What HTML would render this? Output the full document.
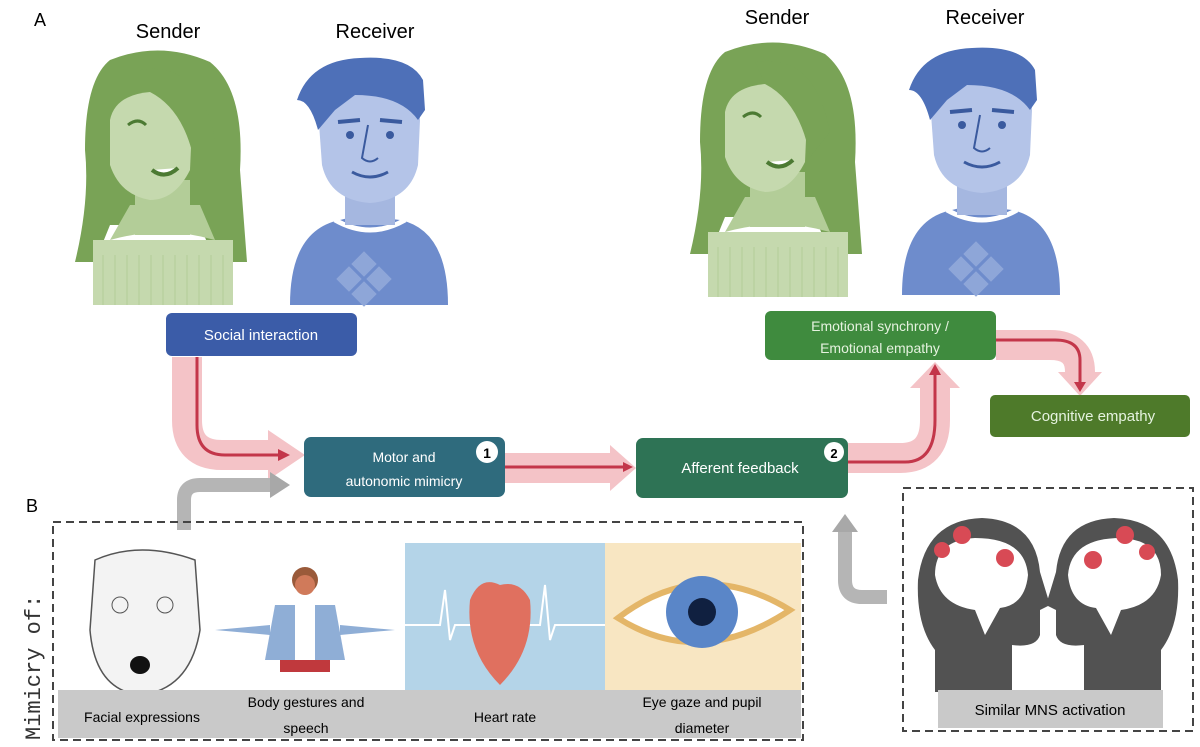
<!DOCTYPE html>
<html><head><meta charset="utf-8"><style>
html,body{margin:0;padding:0;background:#fff;}
svg{display:block;font-family:"Liberation Sans",sans-serif;}
</style></head><body>
<svg width="1200" height="747" viewBox="0 0 1200 747" xmlns="http://www.w3.org/2000/svg">
<defs>
<g id="sender">
  <path d="M110,60 Q160,40 210,62 Q245,90 240,170 L247,262 L215,262 L200,225 L110,225 L95,262 L75,262 Q90,200 85,150 Q85,80 110,60Z" fill="#79a356"/>
  <rect x="93" y="240" width="140" height="65" fill="#c5d9ae"/>
  <g stroke="#b3cd98" stroke-width="1">
   <line x1="103" y1="255" x2="103" y2="305"/><line x1="115" y1="255" x2="115" y2="305"/><line x1="127" y1="255" x2="127" y2="305"/><line x1="139" y1="255" x2="139" y2="305"/><line x1="151" y1="255" x2="151" y2="305"/><line x1="163" y1="255" x2="163" y2="305"/><line x1="175" y1="255" x2="175" y2="305"/><line x1="187" y1="255" x2="187" y2="305"/><line x1="199" y1="255" x2="199" y2="305"/><line x1="211" y1="255" x2="211" y2="305"/><line x1="223" y1="255" x2="223" y2="305"/>
  </g>
  <path d="M110,240 Q163,225 215,240 L200,205 L130,205 Z" fill="#b3cd98"/>
  <rect x="135" y="180" width="55" height="55" fill="#b3cd98"/>
  <path d="M110,120 Q115,95 150,92 Q185,95 192,125 L190,170 Q175,200 150,200 Q120,195 110,165Z" fill="#c5d9ae"/>
  <path d="M140,70 Q200,60 215,140 L195,165 Q185,110 150,92Z" fill="#79a356"/>
  <path d="M128,125 Q138,117 146,125" stroke="#4c7a33" stroke-width="3" fill="none"/>
  <path d="M152,170 Q165,180 178,168" stroke="#4c7a33" stroke-width="4" fill="#fff"/>
</g>
<g id="receiver">
  <path d="M290,305 Q290,230 340,220 L360,215 L400,220 Q448,230 448,305Z" fill="#6e8ccc"/>
  <path d="M335,220 Q370,240 405,220" stroke="#fff" stroke-width="5" fill="none"/>
  <g fill="#8ea6d8"><rect x="355" y="255" width="18" height="18" transform="rotate(45 364 264)"/><rect x="340" y="270" width="18" height="18" transform="rotate(45 349 279)"/><rect x="370" y="270" width="18" height="18" transform="rotate(45 379 279)"/><rect x="355" y="285" width="18" height="18" transform="rotate(45 364 294)"/></g>
  <rect x="345" y="185" width="50" height="40" fill="#a5b7e0"/>
  <path d="M318,110 Q318,90 345,88 L400,88 Q420,95 420,120 L418,165 Q410,200 370,203 Q330,200 322,165Z" fill="#b4c4e8"/>
  <path d="M297,100 Q310,60 360,58 Q410,55 423,80 L425,110 L418,120 Q400,95 355,95 L335,110 L318,130 Q310,100 297,100Z" fill="#4e70b8"/>
  <circle cx="350" cy="135" r="4" fill="#3a5a9e"/><circle cx="390" cy="135" r="4" fill="#3a5a9e"/>
  <path d="M338,122 L360,120 M380,120 L402,122" stroke="#3a5a9e" stroke-width="4"/>
  <path d="M368,125 L362,158 Q370,165 378,158" stroke="#3a5a9e" stroke-width="2" fill="none"/>
  <path d="M352,172 Q370,182 388,172" stroke="#3a5a9e" stroke-width="3" fill="none"/>
</g>
</defs>

<text x="34" y="26" font-size="18">A</text>
<text x="26" y="512" font-size="18">B</text>
<text x="168" y="38" font-size="20" text-anchor="middle">Sender</text>
<text x="375" y="38" font-size="20" text-anchor="middle">Receiver</text>
<text x="777" y="24" font-size="20" text-anchor="middle">Sender</text>
<text x="985" y="24" font-size="20" text-anchor="middle">Receiver</text>

<use href="#sender"/>
<use href="#receiver"/>
<use href="#sender" transform="translate(615,-8)"/>
<use href="#receiver" transform="translate(612,-10)"/>

<g fill="none" stroke="#f4c3c7" stroke-width="30">
 <path d="M187,357 L187,420 Q187,455 222,455 L270,455"/>
 <path d="M505,468 L612,468"/>
 <path d="M848,458 L900,458 Q935,458 935,420 L935,388"/>
 <path d="M996,345 L1050,345 Q1080,345 1080,372"/>
</g>
<g fill="#f4c3c7">
 <polygon points="268,430 305,455 268,480"/>
 <polygon points="610,445 636,468 610,491"/>
 <polygon points="910,388 935,362 960,388"/>
 <polygon points="1058,372 1080,396 1102,372"/>
</g>
<g fill="none" stroke="#c3364a" stroke-width="3">
 <path d="M197,357 L197,425 Q197,455 225,455 L280,455"/>
 <path d="M505,467 L625,467"/>
 <path d="M848,462 L905,462 Q935,462 935,420 L935,372"/>
 <path d="M996,340 L1055,340 Q1080,340 1080,360 L1080,385"/>
</g>
<g fill="#c3364a">
 <polygon points="278,449 290,455 278,461"/>
 <polygon points="623,462 633,467 623,472"/>
 <polygon points="929,375 935,364 941,375"/>
 <polygon points="1074,382 1080,392 1086,382"/>
</g>
<g fill="none" stroke="#b5b5b5" stroke-width="14">
 <path d="M184,530 L184,500 Q184,485 200,485 L272,485"/>
 <path d="M887,597 L862,597 Q845,597 845,580 L845,530"/>
</g>
<polygon points="270,472 290,485 270,498" fill="#a8a8a8"/>
<polygon points="832,532 845,514 858,532" fill="#a8a8a8"/>

<rect x="166" y="313" width="191" height="43" rx="6" fill="#3b5ca8"/>
<text x="261" y="340" font-size="15" fill="#fff" text-anchor="middle">Social interaction</text>
<rect x="304" y="437" width="201" height="60" rx="7" fill="#2f6b7d"/>
<text x="404" y="462" font-size="14" fill="#fff" text-anchor="middle">Motor and</text>
<text x="404" y="486" font-size="14" fill="#fff" text-anchor="middle">autonomic mimicry</text>
<circle cx="487" cy="452" r="11" fill="#fff"/><text x="487" y="458" font-size="14" font-weight="bold" text-anchor="middle">1</text>
<rect x="636" y="438" width="212" height="60" rx="7" fill="#2e7355"/>
<text x="740" y="473" font-size="15" fill="#fff" text-anchor="middle">Afferent feedback</text>
<circle cx="834" cy="452" r="10" fill="#fff"/><text x="834" y="458" font-size="13" font-weight="bold" text-anchor="middle">2</text>
<rect x="765" y="311" width="231" height="49" rx="6" fill="#3f8b3e"/>
<text x="880" y="331" font-size="14" fill="#e5f2df" text-anchor="middle">Emotional synchrony /</text>
<text x="880" y="353" font-size="14" fill="#e5f2df" text-anchor="middle">Emotional empathy</text>
<rect x="990" y="395" width="200" height="42" rx="5" fill="#4e7a2a"/>
<text x="1093" y="421" font-size="15" fill="#e5f2df" text-anchor="middle">Cognitive empathy</text>

<text transform="translate(40,740) rotate(-90)" font-size="22" fill="#333" font-family="Liberation Mono,monospace">Mimicry of:</text>
<rect x="405" y="543" width="200" height="147" fill="#b4d4e8"/>
<rect x="605" y="543" width="196" height="147" fill="#f8e6c2"/>
<path d="M405,625 L440,625 L445,590 L450,640 L455,625 L540,625 L545,585 L550,640 L555,625 L605,625" stroke="#fff" stroke-width="2" fill="none"/>
<path d="M470,600 Q480,575 500,585 Q520,580 530,600 Q535,650 500,685 Q465,650 470,600Z" fill="#e0705f"/>
<ellipse cx="500" cy="710" rx="30" ry="4" fill="#1f3f7a"/>
<path d="M618,618 Q700,555 790,610 Q700,670 618,618Z" fill="#fff" stroke="#e4b668" stroke-width="6"/>
<circle cx="702" cy="612" r="36" fill="#5a86c8"/><circle cx="702" cy="612" r="14" fill="#102040"/>
<path d="M95,560 Q140,540 195,560 L200,630 Q190,690 140,695 Q95,690 90,630Z" fill="#f3f3f3" stroke="#555" stroke-width="1.5"/>
<circle cx="120" cy="605" r="8" fill="none" stroke="#555"/><circle cx="165" cy="605" r="8" fill="none" stroke="#555"/>
<ellipse cx="140" cy="665" rx="10" ry="9" fill="#111"/>
<circle cx="305" cy="580" r="13" fill="#9a5a3a"/><circle cx="305" cy="585" r="10" fill="#d07a5a"/>
<path d="M275,605 L335,605 L345,660 L265,660Z" fill="#8faed6"/><rect x="295" y="605" width="20" height="55" fill="#fff"/>
<path d="M215,630 L270,625 L270,635Z M395,630 L340,625 L340,635Z" fill="#8faed6"/>
<rect x="280" y="660" width="50" height="12" fill="#c0393d"/>
<rect x="58" y="690" width="743" height="48" fill="#c9c9c9"/>
<text x="142" y="722" font-size="14" text-anchor="middle">Facial expressions</text>
<text x="306" y="707" font-size="14" text-anchor="middle">Body gestures and</text>
<text x="306" y="733" font-size="14" text-anchor="middle">speech</text>
<text x="505" y="722" font-size="14" text-anchor="middle">Heart rate</text>
<text x="702" y="707" font-size="14" text-anchor="middle">Eye gaze and pupil</text>
<text x="702" y="733" font-size="14" text-anchor="middle">diameter</text>
<rect x="53" y="522" width="750" height="218" fill="none" stroke="#444" stroke-width="2" stroke-dasharray="8,5"/>

<g fill="#525252">
 <path id="hd" d="M935,692 L935,650 Q916,625 918,580 Q925,520 982,518 Q1035,520 1040,572 L1050,605 L1040,610 L1040,635 Q1036,648 1012,645 L1012,692Z"/>
 <use href="#hd" transform="translate(2096,0) scale(-1,1)"/>
</g>
<path d="M935,575 Q935,540 975,538 Q1025,538 1028,575 Q1025,605 1000,608 L985,635 L975,610 Q940,605 935,575Z" fill="#fff"/>
<path d="M1161,575 Q1161,540 1121,538 Q1071,538 1068,575 Q1071,605 1096,608 L1111,635 L1121,610 Q1156,605 1161,575Z" fill="#fff"/>
<g fill="#d84a55"><circle cx="942" cy="550" r="8"/><circle cx="962" cy="535" r="9"/><circle cx="1005" cy="558" r="9"/><circle cx="1125" cy="535" r="9"/><circle cx="1147" cy="552" r="8"/><circle cx="1093" cy="560" r="9"/></g>
<rect x="938" y="690" width="225" height="38" fill="#c9c9c9"/>
<text x="1050" y="715" font-size="15" text-anchor="middle">Similar MNS activation</text>
<rect x="903" y="488" width="290" height="243" fill="none" stroke="#444" stroke-width="2" stroke-dasharray="8,5"/>
</svg>
</body></html>
